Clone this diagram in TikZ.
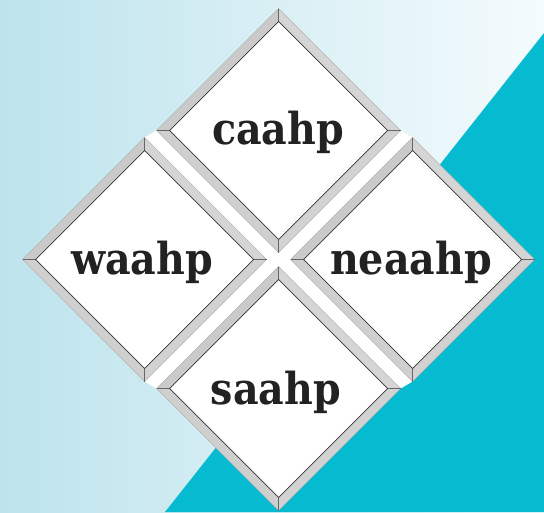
\documentclass[tikz,border=0pt]{standalone}
\usepackage{fontspec}
\newfontfamily\lblfam{DejaVu Serif}
\newcommand\lblfont{\lblfam\bfseries\fontsize{44}{52}\selectfont}
\definecolor{bgL}{HTML}{BDE3EC}
\definecolor{bgR}{HTML}{F4FBFD}
\definecolor{tealA}{HTML}{06BAD0}
\definecolor{bandUL}{HTML}{CACACA}
\definecolor{bandUR}{HTML}{D5D5D5}
\definecolor{bandLL}{HTML}{CFCFCF}
\definecolor{bandLR}{HTML}{D2D2D2}
\definecolor{txt}{HTML}{222222}
\def\Ro{122}
\def\Ri{109}
\tikzset{
  outerline/.style={draw=black!35, line width=0.4pt},
  innerline/.style={draw=black!80, line width=0.7pt},
  miterline/.style={draw=black!60, line width=0.5pt},
  lbl/.style={font=\lblfont, text=txt, inner sep=0pt, anchor=base, xscale=0.9},
}
\newcommand\bevdiamond[1]{%
\begin{scope}[shift={#1}]
  \fill[bandUL] (-\Ro,0)--(0,-\Ro)--(0,-\Ri)--(-\Ri,0)--cycle;
  \fill[bandUR] (0,-\Ro)--(\Ro,0)--(\Ri,0)--(0,-\Ri)--cycle;
  \fill[bandLR] (\Ro,0)--(0,\Ro)--(0,\Ri)--(\Ri,0)--cycle;
  \fill[bandLL] (0,\Ro)--(-\Ro,0)--(-\Ri,0)--(0,\Ri)--cycle;
  \fill[white] (-\Ri,0)--(0,-\Ri)--(\Ri,0)--(0,\Ri)--cycle;
  \draw[outerline] (-\Ro,0)--(0,-\Ro)--(\Ro,0)--(0,\Ro)--cycle;
  \draw[miterline] (-\Ro,0)--(-\Ri,0) (0,-\Ro)--(0,-\Ri) (\Ro,0)--(\Ri,0) (0,\Ro)--(0,\Ri);
  \draw[innerline] (-\Ri,0)--(0,-\Ri)--(\Ri,0)--(0,\Ri)--cycle;
\end{scope}}
\begin{document}
\begin{tikzpicture}[x=1pt,y=-1pt]
\useasboundingbox (0,0) rectangle (544,512);
% background
\shade[left color=bgL, right color=bgR] (0,0) rectangle (544,512);
\fill[tealA] (165,512) -- (544,512) -- (544,33) -- cycle;
% centres
\coordinate (cT) at (278.6,130.5);
\coordinate (cL) at (144.6,259.5);
\coordinate (cR) at (412.6,259.5);
\coordinate (cB) at (278.6,388.5);
% white backdrop
\fill[white] (278.6,8.5) -- (156.6,130.5) -- (144.6,137.5) -- (22.6,259.5)
  -- (144.6,381.5) -- (156.6,388.5) -- (278.6,510.5) -- (400.6,388.5)
  -- (412.6,381.5) -- (534.6,259.5) -- (412.6,137.5) -- (400.6,130.5) -- cycle;
% diamonds
\bevdiamond{(cT)}
\bevdiamond{(cL)}
\bevdiamond{(cR)}
\bevdiamond{(cB)}
% labels
\node[lbl] (caahp) at (278,144) {caahp};
\node[lbl] (waahp) at (142,274) {waahp};
\node[lbl] (neaahp) at (411,274) {neaahp};
\node[lbl] (saahp) at (276,404) {saahp};
\end{tikzpicture}
\end{document}
